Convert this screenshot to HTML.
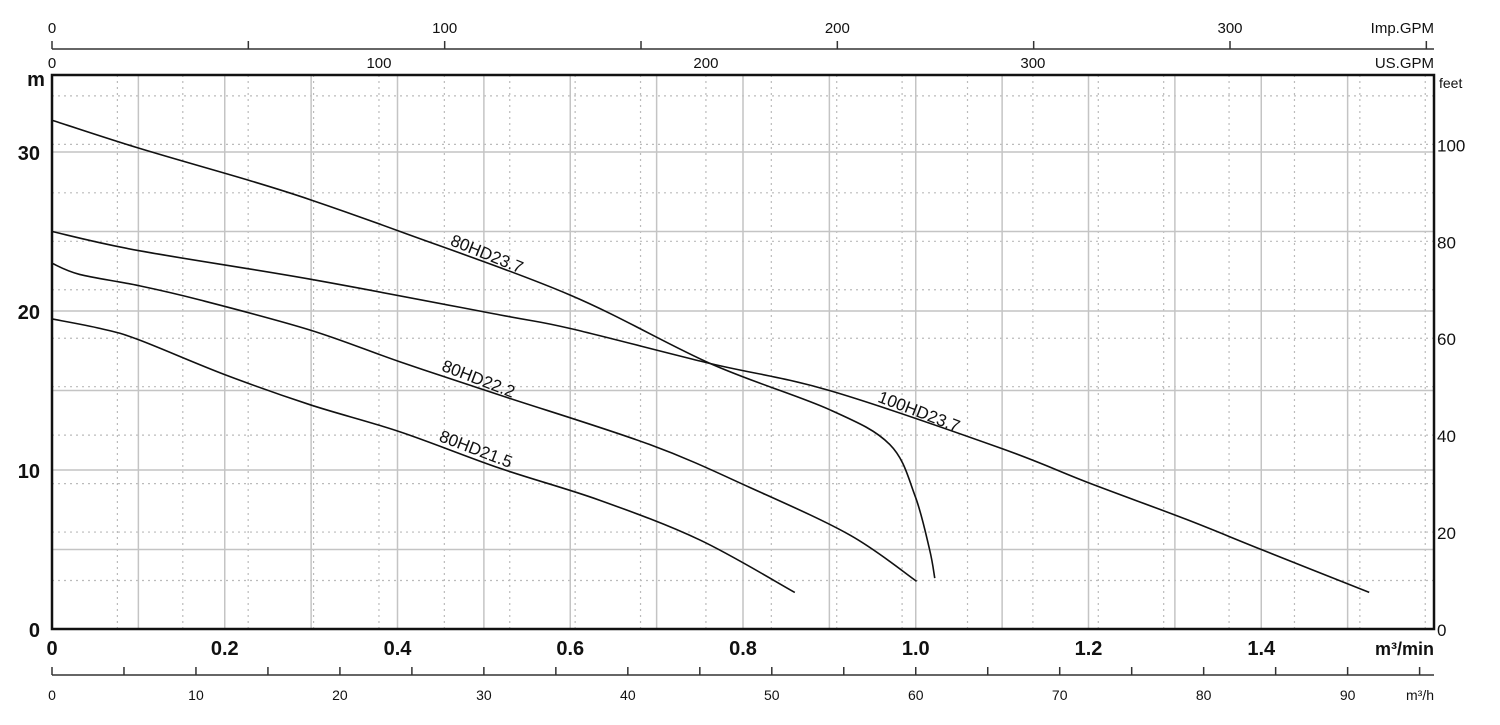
<!DOCTYPE html>
<html><head><meta charset="utf-8"><style>
html,body{margin:0;padding:0;background:#fff;}
svg text{font-family:"Liberation Sans",Arial,sans-serif;fill:#111;}
</style></head><body>
<svg id="chart" width="1500" height="720" viewBox="0 0 1500 720" xmlns="http://www.w3.org/2000/svg">
<g id="grid"></g>
<g id="axes"></g>
<g id="curves"></g>
</svg>
<script>
const seriesNames = ["80HD23.7", "100HD23.7", "80HD22.2", "80HD21.5"];
const q80HD237 = [0, 0.1, 0.229, 0.299, 0.403, 0.6, 0.762, 0.9, 0.97, 0.999, 1.016, 1.022];
const h80HD237 = [32.0, 30.25, 28.2, 27.0, 25.0, 21.0, 16.7, 13.8, 11.6, 8.4, 5.0, 3.2];
const q100HD237 = [0, 0.1, 0.299, 0.519, 0.6, 0.762, 0.9, 1.097, 1.2, 1.313, 1.40, 1.525];
const h100HD237 = [25.0, 23.8, 22.0, 19.75, 18.9, 16.7, 15.0, 11.4, 9.2, 6.9, 5.0, 2.3];
const q80HD222 = [0, 0.032, 0.1, 0.171, 0.299, 0.403, 0.519, 0.692, 0.808, 0.924, 1.001];
const h80HD222 = [23.0, 22.3, 21.6, 20.7, 18.8, 16.8, 14.7, 11.6, 8.9, 5.9, 3.0];
const q80HD215 = [0, 0.056, 0.1, 0.2, 0.299, 0.403, 0.519, 0.634, 0.75, 0.86];
const h80HD215 = [19.5, 18.9, 18.2, 16.0, 14.1, 12.4, 10.1, 8.1, 5.6, 2.3];
const mTicks = [0, 10, 20, 30];
const feetTicks = [0, 20, 40, 60, 80, 100];
const qTicks = [0, 0.2, 0.4, 0.6, 0.8, 1.0, 1.2, 1.4];
const qTickLabels = ["0", "0.2", "0.4", "0.6", "0.8", "1.0", "1.2", "1.4"];
const m3hLabels = [0, 10, 20, 30, 40, 50, 60, 70, 80, 90];
const usgpmLabels = [0, 100, 200, 300];
const impgpmLabels = [0, 100, 200, 300];

const X0 = 52, X1 = 1434, Y0 = 629, Y1 = 75;
const QMAX = 1.6, PXQ = (X1 - X0) / QMAX;
const PXM = 15.9;
const xs = q => X0 + q * PXQ;
const ys = h => Y0 - h * PXM;
const NS = "http://www.w3.org/2000/svg";
function mk(parent, tag, attrs, name) {
  const el = document.createElementNS(NS, tag);
  for (const k in attrs) el.setAttribute(k, attrs[k]);
  
  
  parent.appendChild(el);
  return el;
}
function txt(parent, x, y, s, size, anchor, weight, name) {
  const t = mk(parent, 'text', {x: x, y: y, 'font-size': size, 'text-anchor': anchor, 'font-weight': weight}, name);
  t.textContent = s;
  return t;
}
const grid = document.getElementById('grid');
const axes = document.getElementById('axes');
const curves = document.getElementById('curves');
const M3_PER_USG = 0.0037854, M3_PER_IMPG = 0.0045461, M_PER_FT = 0.3048;

for (let g = 20; xs(g * M3_PER_USG) < X1 - 1; g += 20) {
  const x = xs(g * M3_PER_USG);
  mk(grid, 'line', {x1: x, y1: Y1, x2: x, y2: Y0, stroke: '#bbb', 'stroke-width': 1.2, 'stroke-dasharray': '2,4'}, 'grid-usgpm');
}
for (let f = 10; ys(f * M_PER_FT) > Y1 + 1; f += 10) {
  const y = ys(f * M_PER_FT);
  mk(grid, 'line', {x1: X0, y1: y, x2: X1, y2: y, stroke: '#bbb', 'stroke-width': 1.2, 'stroke-dasharray': '2,4'}, 'grid-feet');
}
for (let i = 1; i < 16; i++) {
  const x = xs(i * 0.1);
  mk(grid, 'line', {x1: x, y1: Y1, x2: x, y2: Y0, stroke: '#c4c4c4', 'stroke-width': 1.5}, 'grid-q');
}
for (let h = 5; ys(h) > Y1 + 1; h += 5) {
  const y = ys(h);
  mk(grid, 'line', {x1: X0, y1: y, x2: X1, y2: y, stroke: '#c4c4c4', 'stroke-width': 1.5}, 'grid-m');
}
mk(axes, 'rect', {x: X0, y: Y1, width: X1 - X0, height: Y0 - Y1, fill: 'none', stroke: '#111', 'stroke-width': 2.5}, 'plot-frame');

mTicks.forEach(v => txt(axes, 40, ys(v) + 8, String(v), 20, 'end', 'bold', 'y-tick-m'));
txt(axes, 36, 86, 'm', 20, 'middle', 'bold', 'y-axis-title-m');
feetTicks.forEach(v => txt(axes, 1437, ys(v * M_PER_FT) + 7, String(v), 17, 'start', 'normal', 'y-tick-feet'));
txt(axes, 1439, 88, 'feet', 14, 'start', 'normal', 'y-axis-title-feet');
qTicks.forEach((v, i) => txt(axes, xs(v), 655, qTickLabels[i], 20, 'middle', 'bold', 'x-tick-m3min'));
txt(axes, 1434, 655, 'm³/min', 18, 'end', 'bold', 'x-axis-title-m3min');
mk(axes, 'line', {x1: X0, y1: 675, x2: X1, y2: 675, stroke: '#333', 'stroke-width': 1.5}, 'm3h-axis-line');
for (let v = 0; xs(v / 60) <= X1; v += 5) {
  const x = xs(v / 60);
  mk(axes, 'line', {x1: x, y1: 667, x2: x, y2: 675, stroke: '#333', 'stroke-width': 1.5}, 'm3h-tick');
}
m3hLabels.forEach(v => txt(axes, xs(v / 60), 700, String(v), 14, 'middle', 'normal', 'm3h-tick-label'));
txt(axes, 1434, 700, 'm³/h', 14, 'end', 'normal', 'm3h-axis-title');
mk(axes, 'line', {x1: X0, y1: 49, x2: X1, y2: 49, stroke: '#333', 'stroke-width': 1.5}, 'impgpm-axis-line');
for (let v = 0; xs(v * M3_PER_IMPG) <= X1; v += 50) {
  const x = xs(v * M3_PER_IMPG);
  mk(axes, 'line', {x1: x, y1: 41, x2: x, y2: 49, stroke: '#333', 'stroke-width': 1.5}, 'impgpm-tick');
}
impgpmLabels.forEach(v => txt(axes, xs(v * M3_PER_IMPG), 33, String(v), 15, 'middle', 'normal', 'impgpm-tick-label'));
txt(axes, 1434, 33, 'Imp.GPM', 15, 'end', 'normal', 'impgpm-axis-title');
usgpmLabels.forEach(v => txt(axes, xs(v * M3_PER_USG), 68, String(v), 15, 'middle', 'normal', 'usgpm-tick-label'));
txt(axes, 1434, 68, 'US.GPM', 15, 'end', 'normal', 'usgpm-axis-title');

function smoothPath(qs, hs) {
  const p = qs.map((q, i) => [xs(q), ys(hs[i])]);
  let d = 'M' + p[0][0] + ',' + p[0][1];
  for (let i = 0; i < p.length - 1; i++) {
    const p0 = p[i - 1] || p[i], p1 = p[i], p2 = p[i + 1], p3 = p[i + 2] || p2;
    const c1 = [p1[0] + (p2[0] - p0[0]) / 6, p1[1] + (p2[1] - p0[1]) / 6];
    const c2 = [p2[0] - (p3[0] - p1[0]) / 6, p2[1] - (p3[1] - p1[1]) / 6];
    d += ' C' + c1[0] + ',' + c1[1] + ' ' + c2[0] + ',' + c2[1] + ' ' + p2[0] + ',' + p2[1];
  }
  return d;
}
const allQ = [q80HD237, q100HD237, q80HD222, q80HD215];
const allH = [h80HD237, h100HD237, h80HD222, h80HD215];
allQ.forEach((qs, i) => {
  mk(curves, 'path', {d: smoothPath(qs, allH[i]), fill: 'none', stroke: '#111', 'stroke-width': 1.6}, 'curve-' + seriesNames[i].toLowerCase().replace('.', '-'));
});
const labelQ = [0.46, 0.955, 0.45, 0.447];
const labelAng = [22, 21, 21, 21];
labelQ.forEach((q, i) => {
  const qs = allQ[i], hs = allH[i];
  let k = 0; while (k < qs.length - 2 && qs[k + 1] < q) k++;
  const h = hs[k] + (hs[k + 1] - hs[k]) * (q - qs[k]) / (qs[k + 1] - qs[k]);
  const x = xs(q), y = ys(h) - 5;
  const t = txt(curves, x, y, seriesNames[i], 17, 'start', 'normal', 'curve-label');
  t.setAttribute('transform', 'rotate(' + labelAng[i] + ' ' + x + ' ' + y + ')');
});
</script>
</body></html>
